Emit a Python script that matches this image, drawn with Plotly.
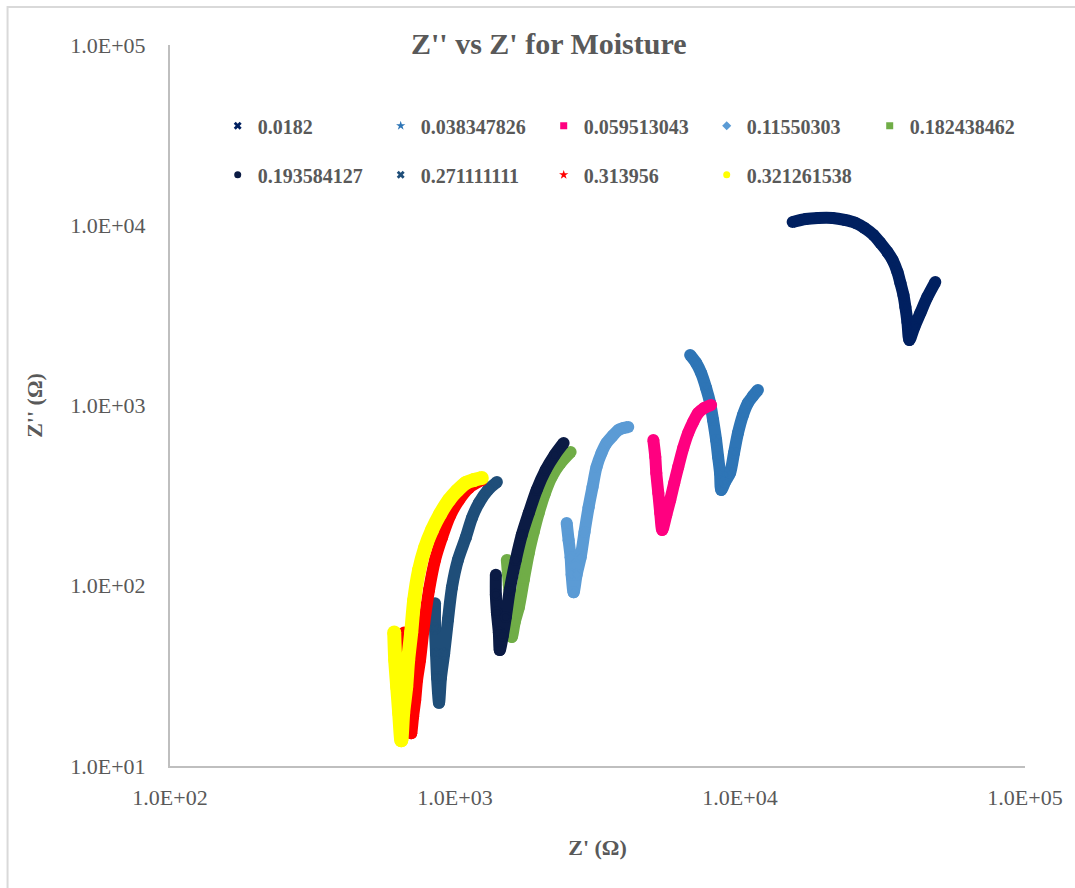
import plotly.graph_objects as go

# Moisture fractions (legend labels)
moisture = ["0.0182", "0.038347826", "0.059513043", "0.11550303", "0.182438462",
            "0.193584127", "0.271111111", "0.313956", "0.321261538"]

colors = ["#002060", "#2E75B6", "#FF0080", "#5B9BD5", "#70AD47",
          "#0B1B44", "#1F4E79", "#FF0000", "#FFFF00"]
symbols = ["x", "star", "square", "diamond", "square",
           "circle", "x", "star", "circle"]

# Impedance readings per sample: Z' (real) and Z'' (imaginary), ohms
z_re_0182 = [15300, 17010, 18750, 21140, 23300, 25440, 27350, 29420, 31100, 32920, 34300,
             35680, 36550, 37450, 38050, 38680, 39300, 40910, 42950, 45430, 48450]
z_im_0182 = [10430, 10830, 10970, 10970, 10700, 10290, 9660, 8830, 7970, 7105, 6410,
             5503, 4780, 4103, 3520, 2906, 2310, 2726, 3260, 4000, 4840]

z_re_0383 = [6685, 7018, 7305, 7604, 7855, 8045, 8245, 8380, 8510, 8590, 8863, 9230,
             9528, 9840, 10244, 10660, 11103, 11560]
z_im_0383 = [1905, 1721, 1514, 1251, 1032, 831, 644, 518, 422, 340, 376, 422,
             545, 704, 886, 1032, 1129, 1219]

z_re_0595 = [4965, 5044, 5085, 5168, 5250, 5335, 5513, 5690, 5879, 6070, 6321, 6580,
             6850, 7130, 7482, 7920]
z_im_0595 = [644, 518, 422, 327, 253, 204, 247, 299, 372, 456, 581, 704,
             810, 908, 968, 1006]

z_re_1155 = [2465, 2504, 2545, 2566, 2607, 2671, 2760, 2848, 2943, 3038, 3138, 3266,
             3400, 3568, 3745, 3898, 4055]
z_im_1155 = [223, 179, 144, 115, 92, 115, 144, 199, 273, 353, 456, 545,
             619, 677, 731, 750, 760]

z_re_1824 = [1520, 1545, 1570, 1583, 1621, 1675, 1743, 1815, 1889, 1966, 2064, 2183, 2348, 2545]
z_im_1824 = [139, 101, 76, 52, 63, 76, 108, 152, 199, 253, 323, 401, 480, 552]

z_re_1936 = [1391, 1391, 1403, 1425, 1436, 1472, 1508, 1557, 1634, 1715, 1815, 1935,
             2080, 2237, 2405]
z_im_1936 = [115, 89, 71, 55, 44, 53, 67, 95, 139, 191, 253, 340, 439, 531, 619]

z_re_2711 = [851, 851, 858, 865, 879, 893, 916, 945, 976, 1024, 1092, 1147, 1213, 1305, 1403]
z_im_2711 = [80, 58, 42, 31, 22.4, 31, 42, 65, 98, 139, 186, 238, 288, 340, 376]

z_re_3140 = [663, 674, 685, 696, 702, 713, 725, 736, 754, 779, 811, 851, 901, 960,
             1033, 1119, 1242]
z_im_3140 = [55, 39, 26.4, 19.9, 15.2, 18.9, 23.2, 30, 38.7, 61, 95, 139, 186, 244,
             299, 349, 386]

z_re_3213 = [612, 617, 627, 637, 648, 658, 674, 685, 702, 719, 748, 785, 831, 887,
             953, 1016, 1092, 1165, 1242]
z_im_3213 = [55, 38.7, 27.4, 19.7, 13.9, 19.7, 27.4, 38.7, 55, 83, 122, 162, 204, 250,
             299, 336, 372, 386, 396]

z_re = [z_re_0182, z_re_0383, z_re_0595, z_re_1155, z_re_1824,
        z_re_1936, z_re_2711, z_re_3140, z_re_3213]
z_im = [z_im_0182, z_im_0383, z_im_0595, z_im_1155, z_im_1824,
        z_im_1936, z_im_2711, z_im_3140, z_im_3213]

tick_vals_x = [1e2, 1e3, 1e4, 1e5]
tick_text_x = ["1.0E+02", "1.0E+03", "1.0E+04", "1.0E+05"]
tick_vals_y = [1e1, 1e2, 1e3, 1e4, 1e5]
tick_text_y = ["1.0E+01", "1.0E+02", "1.0E+03", "1.0E+04", "1.0E+05"]

SERIF = "Liberation Serif, Times New Roman, serif"
GREY = "#595959"

fig = go.Figure()
for i, name in enumerate(moisture):
    w = 14 if i == 8 else 12
    # thick band tracing the measured curve
    fig.add_trace(go.Scatter(
        x=z_re[i], y=z_im[i], mode="lines+markers",
        line=dict(color=colors[i], width=w, shape="spline", smoothing=0.8),
        marker=dict(color=colors[i], size=w, symbol="circle"),
        showlegend=False, legendgroup=name, hoverinfo="skip",
    ))
    # same points with the legend marker
    fig.add_trace(go.Scatter(
        x=z_re[i], y=z_im[i], mode="markers", name=name,
        marker=dict(color=colors[i], size=7, symbol=symbols[i]),
        legendgroup=name,
        legend="legend" if i < 5 else "legend2",
    ))

legend_common = dict(
    orientation="h", xanchor="left", yanchor="middle",
    font=dict(family=SERIF, size=20, color=GREY, weight="bold"),
    bgcolor="rgba(0,0,0,0)", entrywidth=118, entrywidthmode="pixels",
    itemwidth=30,
)

fig.update_layout(
    width=1075, height=888,
    margin=dict(l=170, r=47, t=45, b=122),
    paper_bgcolor="white", plot_bgcolor="white",
    title=dict(text="Z'' vs Z' for Moisture", x=0.443, xref="paper", xanchor="center",
               y=0.951, yanchor="middle",
               font=dict(family=SERIF, size=30, color=GREY, weight="bold")),
    legend=dict(x=0.0558, y=0.888, **legend_common),
    legend2=dict(x=0.0558, y=0.82, **legend_common),
    xaxis=dict(type="log", range=[2, 5], tickvals=tick_vals_x, ticktext=tick_text_x,
               showgrid=False, zeroline=False, showline=True, linecolor="#BFBFBF",
               linewidth=2, ticks="", ticklabelstandoff=11,
               tickfont=dict(family=SERIF, size=22, color=GREY),
               title=dict(text="Z' (Ω)", standoff=30,
                          font=dict(family=SERIF, size=22, color=GREY, weight="bold"))),
    yaxis=dict(type="log", range=[1, 5], tickvals=tick_vals_y, ticktext=tick_text_y,
               showgrid=False, zeroline=False, showline=True, linecolor="#BFBFBF",
               linewidth=2, ticks="", ticklabelstandoff=18,
               tickfont=dict(family=SERIF, size=22, color=GREY),
               title=dict(text="Z'' (Ω)", standoff=22,
                          font=dict(family=SERIF, size=22, color=GREY, weight="bold"))),
    shapes=[dict(type="rect", xref="paper", yref="paper",
                 x0=-0.19, x1=1.2, y0=-0.3, y1=1.0527,
                 line=dict(color="#D9D9D9", width=2), fillcolor="rgba(0,0,0,0)",
                 layer="below")],
)

fig.write_html("out.html")
